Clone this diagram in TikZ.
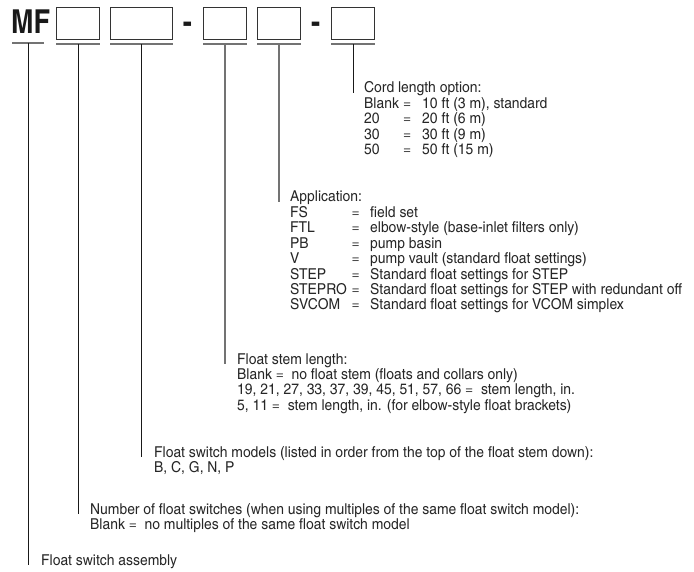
\documentclass[tikz,border=0pt]{standalone}
\usepackage{fontspec}
\setmainfont{texgyreheroscn}[Extension=.otf, UprightFont=*-regular, BoldFont=*-bold, ItalicFont=*-italic, BoldItalicFont=*-bolditalic, FakeStretch=1.13]
\newfontfamily\mffont{texgyreheroscn}[Extension=.otf, UprightFont=*-bold, BoldFont=*-bold]
\begin{document}
\begin{tikzpicture}[x=1bp,y=-1bp,
  box/.style={draw=black!80, line width=1.1bp, inner sep=0, minimum height=32bp, anchor=north west},
  uline/.style={draw=black!55, line width=1.5bp},
  lead/.style={draw=black!90, line width=0.9bp},
  leadg/.style={draw=black!55, line width=1.4bp},
  txt/.style={anchor=base west, inner sep=0, font=\fontsize{15bp}{15.4bp}\selectfont, text=black!85},
  big/.style={anchor=base, inner sep=0, font=\fontsize{33bp}{33bp}\mffont, text=black!90}]
\useasboundingbox (0,0) rectangle (694,572);
% code line
\node[big, anchor=base west] (mf) at (11,34) {MF};
\node[box, minimum width=43bp] (b1) at (56,7) {};
\node[box, minimum width=62bp] (b2) at (110,7) {};
\node[big] (d1) at (187.5,34) {-};
\node[box, minimum width=43bp] (b3) at (203,7) {};
\node[box, minimum width=43bp] (b4) at (257,7) {};
\node[big] (d2) at (315.5,34) {-};
\node[box, minimum width=43bp] (b5) at (331,7) {};
% underlines
\coordinate (m0) at (12,43); \coordinate (m1) at (44,43); \coordinate (u0) at (28,43);
\draw[uline] (m0) -- (m1);
\foreach \b in {b1,b2,b3,b4,b5}{
  \draw[uline] ([yshift=-4bp]\b.south west) -- ([yshift=-4bp]\b.south east);
  \coordinate (u\b) at ([yshift=-4bp]\b.south);
}
% Cord length
\node[txt] (cord) at (364,93) {Cord length option:};
\foreach \l/\v [count=\i] in {Blank/{10 ft (3 m), standard},20/{20 ft (6 m)},30/{30 ft (9 m)},50/{50 ft (15 m)}}{
  \node[txt] (cl\i) at (364,93+15.4*\i) {\l};
  \node[txt] (ce\i) at (403,93+15.4*\i) {=};
  \node[txt] (cv\i) at (422,93+15.4*\i) {\v};
}
% Application
\node[txt] (app) at (290,202) {Application:};
\foreach \l/\v [count=\i] in {FS/field set,FTL/{elbow-style (base-inlet filters only)},PB/pump basin,V/{pump vault (standard float settings)},STEP/Standard float settings for STEP,STEPRO/Standard float settings for STEP with redundant off,SVCOM/Standard float settings for VCOM simplex}{
  \node[txt] (al\i) at (290,202+15.4*\i) {\l};
  \node[txt] (ae\i) at (351.5,202+15.4*\i) {=};
  \node[txt] (av\i) at (370,202+15.4*\i) {\v};
}
% Float stem length
\node[txt] (stem) at (237,364) {Float stem length:};
\node[txt] (s1) at (237,379.4) {Blank = \ no float stem (floats and collars only)};
\node[txt] (s2) at (237,394.8) {19, 21, 27, 33, 37, 39, 45, 51, 57, 66 = \ stem length, in.};
\node[txt] (s3) at (237,410.2) {5, 11 = \ stem length, in. (for elbow-style float brackets)};
% Float switch models
\node[txt] (mod) at (154,457) {Float switch models (listed in order from the top of the float stem down):};
\node[txt] (mod1) at (154,472.4) {B, C, G, N, P};
% Number of float switches
\node[txt] (num) at (90,514) {Number of float switches (when using multiples of the same float switch model):};
\node[txt] (num1) at (90,529.4) {Blank = \ no multiples of the same float switch model};
% Assembly
\node[txt] (asm) at (41,565) {Float switch assembly};
% leads
\draw[lead] (u0) -- (u0 |- asm.base);
\draw[lead] (ub1) -- (ub1 |- num.base);
\draw[lead] (ub2) -- (ub2 |- mod.base);
\draw[leadg] (ub3) -- (ub3 |- stem.base);
\draw[leadg] (ub4) -- (ub4 |- app.base);
\draw[lead] (ub5) -- (ub5 |- cord.base);
\end{tikzpicture}
\end{document}
